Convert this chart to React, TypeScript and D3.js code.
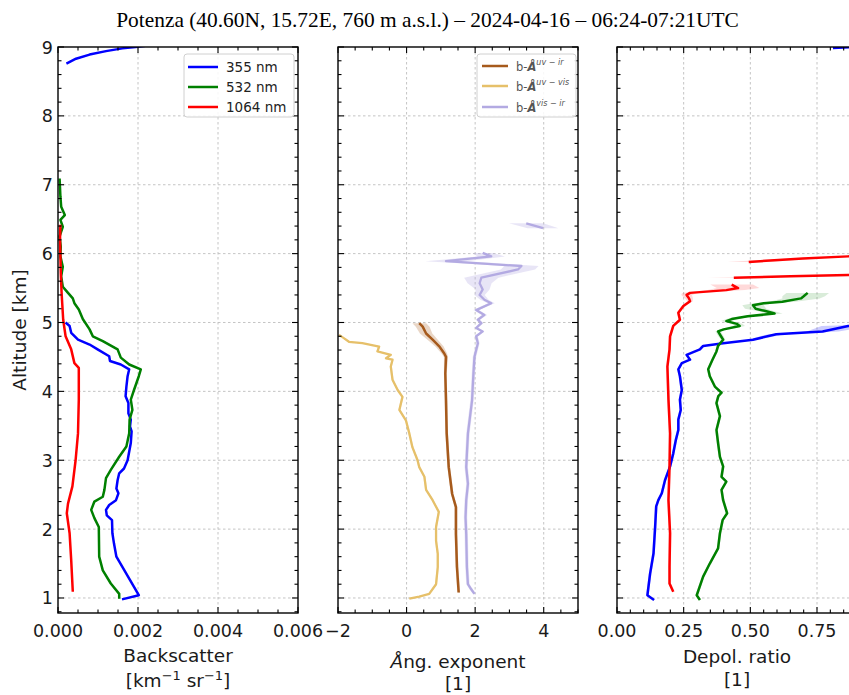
import React from 'react';
import * as d3 from 'd3';

const W = 849;
const H = 695;

// ---------- Titles / labels ----------
const TITLE = 'Potenza (40.60N, 15.72E, 760 m a.s.l.) \u2013 2024-04-16 \u2013 06:24-07:21UTC';

// ---------- Axis definitions ----------
const ALT_DOMAIN: [number, number] = [0.782, 9];
const ALT_MAJOR = [1, 2, 3, 4, 5, 6, 7, 8, 9];
const BSC_DOMAIN: [number, number] = [0, 0.006];
const BSC_MAJOR = [0, 0.002, 0.004, 0.006];
const AE_DOMAIN: [number, number] = [-2, 5];
const AE_MAJOR = [-2, 0, 2, 4];
const DEP_DOMAIN: [number, number] = [0, 0.9];
const DEP_MAJOR = [0, 0.25, 0.5, 0.75];

// ---------- Backscatter [alt km, value] ----------
const bsc355Top: [number, number][] = [
  [8.76, 0.00021], [8.83, 0.00045], [8.89, 0.00079], [8.94, 0.0012], [8.98, 0.00161], [9.0, 0.00194], [9.04, 0.0025],
];
const bsc355: [number, number][] = [
  [5.0, 0.00019], [4.95, 0.00029], [4.85, 0.00033], [4.75, 0.0005], [4.68, 0.00079], [4.61, 0.00099], [4.51, 0.00128],
  [4.44, 0.0013], [4.39, 0.00157], [4.32, 0.00178], [4.22, 0.00174], [4.07, 0.00171], [3.93, 0.00169], [3.83, 0.00176],
  [3.68, 0.00176], [3.59, 0.00182], [3.49, 0.0018], [3.42, 0.00184], [3.25, 0.00182], [3.0, 0.00174], [2.88, 0.00165],
  [2.81, 0.00153], [2.71, 0.00149], [2.59, 0.00146], [2.52, 0.00151], [2.42, 0.00145], [2.35, 0.00128], [2.28, 0.0012],
  [2.2, 0.00122], [2.13, 0.00135], [1.94, 0.00136], [1.79, 0.0014], [1.6, 0.00146], [1.04, 0.00202], [0.98, 0.0016],
];
const bsc532: [number, number][] = [
  [7.09, 0.00004], [6.83, 0.00006], [6.68, 0.00008], [6.56, 0.00017], [6.49, 0.00006], [6.39, 0.00012], [6.25, 0.00004],
  [6.1, 0.00007], [5.96, 0.00006], [5.81, 0.00012], [5.67, 0.00008], [5.52, 0.00012], [5.43, 0.00025], [5.35, 0.00037],
  [5.28, 0.00041], [5.19, 0.00052], [5.05, 0.00062], [4.9, 0.00079], [4.8, 0.00087], [4.73, 0.00112], [4.61, 0.00149],
  [4.49, 0.00157], [4.39, 0.00178], [4.32, 0.00207], [4.22, 0.00202], [4.02, 0.0019], [3.88, 0.00182], [3.73, 0.00186],
  [3.59, 0.00179], [3.39, 0.00178], [3.2, 0.00171], [3.05, 0.00153], [2.86, 0.00132], [2.74, 0.0012], [2.57, 0.00116],
  [2.47, 0.00112], [2.4, 0.00091], [2.28, 0.00083], [2.16, 0.00091], [2.03, 0.00102], [1.6, 0.00103], [1.4, 0.00112],
  [1.21, 0.00132], [1.06, 0.00153], [0.99, 0.00153],
];
const bsc1064: [number, number][] = [
  [6.42, 0.00006], [6.2, 0.00005], [5.96, 0.00006], [5.71, 0.00007], [5.43, 0.00009], [5.33, 0.0001], [5.04, 0.00013],
  [4.8, 0.00019], [4.61, 0.00033], [4.41, 0.00041], [4.34, 0.00052], [3.88, 0.00052], [3.39, 0.0005], [3.0, 0.00044],
  [2.62, 0.00036], [2.37, 0.00025], [2.23, 0.00022], [1.94, 0.00029], [1.55, 0.00033], [1.09, 0.00037],
];

// ---------- Angstrom exponents [alt km, value, uncertainty] ----------
const aeUvIr: [number, number, number][] = [
  [4.99, 0.37, 0.2], [4.94, 0.47, 0.2], [4.84, 0.57, 0.18], [4.75, 0.76, 0.15], [4.65, 0.96, 0.12], [4.55, 1.1, 0.08],
  [4.5, 1.15, 0.06], [4.26, 1.13, 0.04], [3.87, 1.15, 0.04], [3.39, 1.17, 0.04], [2.9, 1.23, 0.04], [2.51, 1.33, 0.04],
  [2.32, 1.44, 0.04], [1.93, 1.44, 0.04], [1.45, 1.47, 0.04], [1.08, 1.52, 0.04],
];
const aeUvVis: [number, number, number][] = [
  [4.82, -1.97, 0.03], [4.77, -1.82, 0.03], [4.72, -1.68, 0.03], [4.7, -1.29, 0.03], [4.65, -0.8, 0.03], [4.58, -0.85, 0.03],
  [4.53, -0.46, 0.03], [4.48, -0.6, 0.03], [4.46, -0.41, 0.03], [4.36, -0.46, 0.03], [4.17, -0.41, 0.03], [4.02, -0.26, 0.03],
  [3.92, -0.12, 0.03], [3.73, -0.21, 0.03], [3.58, -0.02, 0.03], [3.39, 0.08, 0.03], [3.19, 0.17, 0.03], [3.0, 0.32, 0.03],
  [2.9, 0.37, 0.03], [2.76, 0.52, 0.03], [2.57, 0.57, 0.03], [2.42, 0.76, 0.03], [2.25, 0.94, 0.03], [2.03, 0.86, 0.03],
  [1.83, 0.86, 0.03], [1.64, 0.91, 0.03], [1.45, 0.91, 0.03], [1.2, 0.86, 0.03], [1.06, 0.66, 0.03], [1.02, 0.37, 0.03],
  [0.99, 0.08, 0.03],
];
const aeVisIrTop: [number, number, number][] = [
  [6.44, 3.49, 0.5], [6.37, 3.98, 0.45],
];
const aeVisIr: [number, number, number][] = [
  [6.01, 2.22, 0.3], [5.96, 2.47, 0.4], [5.89, 1.15, 0.6], [5.82, 3.35, 0.5], [5.77, 3.25, 0.5], [5.65, 2.18, 0.5],
  [5.57, 2.13, 0.35], [5.48, 2.22, 0.2], [5.4, 2.13, 0.15], [5.33, 2.27, 0.12], [5.28, 2.47, 0.1], [5.18, 2.03, 0.08],
  [5.11, 2.27, 0.08], [5.04, 2.08, 0.06], [4.99, 2.18, 0.06], [4.92, 2.03, 0.05], [4.87, 2.22, 0.05], [4.8, 2.03, 0.05],
  [4.7, 2.08, 0.05], [4.5, 1.98, 0.05], [4.26, 1.95, 0.05], [4.07, 1.93, 0.05], [3.87, 1.91, 0.05], [3.63, 1.85, 0.05],
  [3.39, 1.79, 0.05], [3.1, 1.76, 0.05], [2.9, 1.74, 0.05], [2.66, 1.79, 0.05], [2.42, 1.74, 0.05], [2.17, 1.72, 0.05],
  [1.93, 1.74, 0.05], [1.45, 1.76, 0.05], [1.2, 1.79, 0.05], [1.13, 1.88, 0.05], [1.06, 1.98, 0.05],
];

// ---------- Depolarization ratio [alt km, value, uncertainty] ----------
const dep355Top: [number, number, number][] = [
  [8.985, 0.81, 0.01], [8.995, 0.87, 0.01], [9.0, 0.95, 0.01],
];
const dep355: [number, number, number][] = [
  [4.96, 0.95, 0.1], [4.95, 0.867, 0.1], [4.87, 0.771, 0.06], [4.83, 0.597, 0.03], [4.75, 0.51, 0.02], [4.7, 0.398, 0.01],
  [4.66, 0.323, 0.008], [4.61, 0.311, 0.006], [4.53, 0.261, 0.005], [4.46, 0.274, 0.005], [4.41, 0.243, 0.005],
  [4.32, 0.23, 0.005], [4.22, 0.236, 0.005], [4.02, 0.243, 0.005], [3.88, 0.236, 0.005], [3.73, 0.239, 0.005],
  [3.59, 0.23, 0.005], [3.44, 0.23, 0.005], [3.3, 0.221, 0.005], [3.1, 0.211, 0.005], [2.91, 0.199, 0.005],
  [2.71, 0.18, 0.005], [2.52, 0.168, 0.005], [2.42, 0.155, 0.005], [2.33, 0.147, 0.005], [2.03, 0.143, 0.005],
  [1.65, 0.137, 0.005], [1.35, 0.124, 0.005], [1.04, 0.114, 0.005], [0.97, 0.139, 0.005],
];
const dep532: [number, number, number][] = [
  [5.43, 0.715, 0.08], [5.38, 0.7, 0.08], [5.35, 0.69, 0.07], [5.3, 0.62, 0.05], [5.28, 0.55, 0.04], [5.25, 0.51, 0.04],
  [5.2, 0.52, 0.04], [5.17, 0.553, 0.03], [5.13, 0.591, 0.03], [5.09, 0.49, 0.03], [5.05, 0.43, 0.02], [5.02, 0.41, 0.02],
  [4.98, 0.45, 0.02], [4.95, 0.46, 0.02], [4.9, 0.4, 0.015], [4.87, 0.379, 0.01], [4.8, 0.39, 0.01], [4.75, 0.398, 0.008],
  [4.66, 0.379, 0.006], [4.58, 0.373, 0.005], [4.46, 0.358, 0.005], [4.32, 0.342, 0.005], [4.22, 0.348, 0.005],
  [4.07, 0.367, 0.005], [3.98, 0.392, 0.005], [3.93, 0.38, 0.005], [3.83, 0.373, 0.005], [3.64, 0.386, 0.005],
  [3.44, 0.373, 0.005], [3.25, 0.379, 0.005], [3.05, 0.386, 0.005], [2.91, 0.398, 0.005], [2.76, 0.392, 0.005],
  [2.69, 0.41, 0.005], [2.57, 0.392, 0.005], [2.42, 0.398, 0.005], [2.23, 0.413, 0.005], [2.13, 0.396, 0.005],
  [1.94, 0.386, 0.005], [1.72, 0.379, 0.005], [1.5, 0.348, 0.005], [1.31, 0.323, 0.005], [1.04, 0.299, 0.005],
  [0.97, 0.311, 0.005],
];
const dep1064Top: [number, number, number][] = [
  [5.88, 0.494, 0.08], [5.93, 0.697, 0.05], [5.96, 0.867, 0.03], [5.97, 0.95, 0.03],
];
const dep1064Mid: [number, number, number][] = [
  [5.65, 0.438, 0.1], [5.67, 0.65, 0.06], [5.69, 0.867, 0.04], [5.7, 0.95, 0.04],
];
const dep1064: [number, number, number][] = [
  [5.55, 0.43, 0.08], [5.5, 0.454, 0.08], [5.47, 0.41, 0.07], [5.43, 0.274, 0.03], [5.4, 0.261, 0.02], [5.35, 0.27, 0.015],
  [5.31, 0.274, 0.01], [5.24, 0.249, 0.008], [5.14, 0.23, 0.006], [5.04, 0.236, 0.005], [4.95, 0.211, 0.005],
  [4.8, 0.199, 0.005], [4.61, 0.197, 0.005], [4.36, 0.189, 0.005], [3.88, 0.193, 0.005], [3.39, 0.199, 0.005],
  [2.91, 0.197, 0.005], [2.42, 0.193, 0.005], [1.94, 0.199, 0.005], [1.45, 0.197, 0.005], [1.21, 0.197, 0.005],
  [1.09, 0.211, 0.005],
];

// ---------- Colours ----------
const C355 = '#0000ff';
const C532 = '#008000';
const C1064 = '#ff0000';
const C_UVIR = '#a65a1c';
const C_UVVIS = '#e6c06a';
const C_VISIR = '#b3aae2';

// ---------- Layout ----------
const TOP = 47;
const BOTTOM = 613;
const PANELS = [
  { x0: 58, x1: 298 },
  { x0: 338, x1: 578 },
  { x0: 617, x1: 857 },
];
const FONT = 'DejaVu Sans, sans-serif';

const y = d3.scaleLinear().domain(ALT_DOMAIN).range([BOTTOM, TOP]);

type Series = { data: number[][]; color: string; width: number; band?: boolean; bandOpacity?: number };

function minorTicks(domain: [number, number], step: number, majors: number[]) {
  const out: number[] = [];
  const start = Math.ceil(domain[0] / step - 1e-9) * step;
  for (let v = start; v <= domain[1] + 1e-9; v += step) {
    if (!majors.some((m) => Math.abs(m - v) < step * 1e-3)) out.push(+v.toFixed(6));
  }
  return out;
}

function Panel(props: {
  idx: number;
  domain: [number, number];
  majors: number[];
  minorStep: number;
  fmt: (v: number) => string;
  series: Series[];
  yLabels: boolean;
}) {
  const { idx, domain, majors, minorStep, fmt, series, yLabels } = props;
  const { x0, x1 } = PANELS[idx];
  const x = d3.scaleLinear().domain(domain).range([x0, x1]);
  const clipId = `clip${idx}`;
  const line = d3
    .line<number[]>()
    .x((d) => x(d[1]))
    .y((d) => y(d[0]));
  const area = d3
    .area<number[]>()
    .y((d) => y(d[0]))
    .x0((d) => x(d[1] - (d[2] ?? 0)))
    .x1((d) => x(d[1] + (d[2] ?? 0)));
  const xMinor = minorTicks(domain, minorStep, majors);
  const yMinor = minorTicks(ALT_DOMAIN, 0.2, ALT_MAJOR);
  const MAJ = 6;
  const MIN = 3.5;
  return (
    <g>
      <defs>
        <clipPath id={clipId}>
          <rect x={x0} y={TOP} width={x1 - x0} height={BOTTOM - TOP} />
        </clipPath>
      </defs>
      {/* grid */}
      <g stroke="#bdbdbd" strokeWidth={0.9} strokeDasharray="2.5,2.5">
        {majors
          .filter((v) => x(v) > x0 + 1 && x(v) < x1 - 1)
          .map((v) => (
            <line key={'gx' + v} x1={x(v)} x2={x(v)} y1={TOP} y2={BOTTOM} />
          ))}
        {ALT_MAJOR.filter((v) => y(v) > TOP + 1).map((v) => (
          <line key={'gy' + v} x1={x0} x2={x1} y1={y(v)} y2={y(v)} />
        ))}
      </g>
      {/* data */}
      <g clipPath={`url(#${clipId})`}>
        {series
          .filter((s) => s.band)
          .map((s, i) => (
            <path key={'b' + i} d={area(s.data) || ''} fill={s.color} opacity={s.bandOpacity ?? 0.25} stroke="none" />
          ))}
        {series.map((s, i) => (
          <path
            key={'l' + i}
            d={line(s.data) || ''}
            fill="none"
            stroke={s.color}
            strokeWidth={s.width}
            strokeLinejoin="round"
            strokeLinecap="butt"
          />
        ))}
      </g>
      {/* spines */}
      <rect x={x0} y={TOP} width={x1 - x0} height={BOTTOM - TOP} fill="none" stroke="#000" strokeWidth={1.4} />
      {/* ticks */}
      <g stroke="#000" strokeWidth={1.1}>
        {majors.map((v) => (
          <g key={'tx' + v}>
            <line x1={x(v)} x2={x(v)} y1={BOTTOM} y2={BOTTOM - MAJ} />
            <line x1={x(v)} x2={x(v)} y1={TOP} y2={TOP + MAJ} />
          </g>
        ))}
        {xMinor.map((v) => (
          <g key={'mx' + v}>
            <line x1={x(v)} x2={x(v)} y1={BOTTOM} y2={BOTTOM - MIN} />
            <line x1={x(v)} x2={x(v)} y1={TOP} y2={TOP + MIN} />
          </g>
        ))}
        {ALT_MAJOR.map((v) => (
          <g key={'ty' + v}>
            <line x1={x0} x2={x0 + MAJ} y1={y(v)} y2={y(v)} />
            <line x1={x1} x2={x1 - MAJ} y1={y(v)} y2={y(v)} />
          </g>
        ))}
        {yMinor.map((v) => (
          <g key={'my' + v}>
            <line x1={x0} x2={x0 + MIN} y1={y(v)} y2={y(v)} />
            <line x1={x1} x2={x1 - MIN} y1={y(v)} y2={y(v)} />
          </g>
        ))}
      </g>
      {/* tick labels */}
      <g fontFamily={FONT} fontSize={17.5} fill="#1a1a1a">
        {majors.map((v) => (
          <text key={'lx' + v} x={x(v)} y={637} textAnchor="middle">
            {fmt(v)}
          </text>
        ))}
        {yLabels &&
          ALT_MAJOR.map((v) => (
            <text key={'ly' + v} x={x0 - 5} y={y(v) + 6.5} textAnchor="end">
              {String(v)}
            </text>
          ))}
      </g>
    </g>
  );
}

export default function App() {
  const fmtBsc = d3.format('.3f');
  const fmtAe = d3.format('d');
  const fmtDep = d3.format('.2f');
  return (
    <svg
      width={W}
      height={H}
      viewBox={`0 0 ${W} ${H}`}
      style={{ position: 'absolute', left: 0, top: 0, background: '#fff' }}
    >
      <rect x={0} y={0} width={W} height={H} fill="#fff" />
      <text x={427.5} y={27} textAnchor="middle" fontFamily="Liberation Serif, Times New Roman, serif" fontSize={21.4} fill="#000">
        {TITLE}
      </text>

      <Panel
        idx={0}
        domain={BSC_DOMAIN}
        majors={BSC_MAJOR}
        minorStep={0.0005}
        fmt={fmtBsc}
        yLabels={true}
        series={[
          { data: bsc355Top, color: C355, width: 2.5 },
          { data: bsc355, color: C355, width: 2.5 },
          { data: bsc532, color: C532, width: 2.5 },
          { data: bsc1064, color: C1064, width: 2.5 },
        ]}
      />
      <Panel
        idx={1}
        domain={AE_DOMAIN}
        majors={AE_MAJOR}
        minorStep={0.5}
        fmt={fmtAe}
        yLabels={false}
        series={[
          { data: aeVisIrTop, color: C_VISIR, width: 2.3, band: true, bandOpacity: 0.3 },
          { data: aeVisIr, color: C_VISIR, width: 2.3, band: true, bandOpacity: 0.3 },
          { data: aeUvVis, color: C_UVVIS, width: 2.3, band: true, bandOpacity: 0.3 },
          { data: aeUvIr, color: C_UVIR, width: 2.5, band: true, bandOpacity: 0.25 },
        ]}
      />
      <Panel
        idx={2}
        domain={DEP_DOMAIN}
        majors={DEP_MAJOR}
        minorStep={0.05}
        fmt={fmtDep}
        yLabels={false}
        series={[
          { data: dep355Top, color: C355, width: 2.5, band: true, bandOpacity: 0.2 },
          { data: dep355, color: C355, width: 2.5, band: true, bandOpacity: 0.2 },
          { data: dep532, color: C532, width: 2.5, band: true, bandOpacity: 0.15 },
          { data: dep1064Top, color: C1064, width: 2.5, band: true, bandOpacity: 0.15 },
          { data: dep1064Mid, color: C1064, width: 2.5, band: true, bandOpacity: 0.15 },
          { data: dep1064, color: C1064, width: 2.5, band: true, bandOpacity: 0.15 },
        ]}
      />

      {/* Y axis label */}
      <text
        transform={`translate(26, ${(TOP + BOTTOM) / 2}) rotate(-90)`}
        textAnchor="middle"
        fontFamily={FONT}
        fontSize={18.5}
        fill="#1a1a1a"
      >
        Altitude [km]
      </text>

      {/* X axis labels */}
      <g fontFamily={FONT} fontSize={18.5} fill="#1a1a1a" textAnchor="middle">
        <text x={178} y={662}>Backscatter</text>
        <text x={178} y={687}>
          [km<tspan dy={-7} fontSize={13}>{'\u22121'}</tspan>
          <tspan dy={7}> sr</tspan>
          <tspan dy={-7} fontSize={13}>{'\u22121'}</tspan>
          <tspan dy={7}>]</tspan>
        </text>
        <text x={458} y={668}>
          <tspan fontStyle="italic">Å</tspan>ng. exponent
        </text>
        <text x={458} y={690}>[1]</text>
        <text x={737} y={663}>Depol. ratio</text>
        <text x={737} y={686}>[1]</text>
      </g>

      {/* Legend panel 1 */}
      <g>
        <rect x={184} y={54} width={110} height={63} rx={3} fill="#fff" fillOpacity={0.85} stroke="#d0d0d0" strokeWidth={1} />
        {[
          { c: C355, t: '355 nm', yy: 67 },
          { c: C532, t: '532 nm', yy: 87 },
          { c: C1064, t: '1064 nm', yy: 107 },
        ].map((e) => (
          <g key={e.t}>
            <line x1={188} x2={218} y1={e.yy} y2={e.yy} stroke={e.c} strokeWidth={2.5} />
            <text x={226} y={e.yy + 5} fontFamily={FONT} fontSize={13.5} fill="#222">
              {e.t}
            </text>
          </g>
        ))}
      </g>

      {/* Legend panel 2 */}
      <g>
        <rect x={477} y={54} width={99} height={63} rx={3} fill="#fff" fillOpacity={0.85} stroke="#d0d0d0" strokeWidth={1} />
        {[
          { c: C_UVIR, sup: 'uv \u2212 ir', yy: 66 },
          { c: C_UVVIS, sup: 'uv \u2212 vis', yy: 86 },
          { c: C_VISIR, sup: 'vis \u2212 ir', yy: 107 },
        ].map((e) => (
          <g key={e.sup}>
            <line x1={482} x2={508} y1={e.yy} y2={e.yy} stroke={e.c} strokeWidth={2.5} />
            <text x={516} y={e.yy + 4.5} fontFamily={FONT} fontSize={11.5} fill="#555">
              b-<tspan fontStyle="italic" fontWeight="bold">Å</tspan>
              <tspan dy={-5.5} fontSize={8} fontStyle="italic">{e.sup}</tspan>
            </text>
          </g>
        ))}
      </g>
    </svg>
  );
}
